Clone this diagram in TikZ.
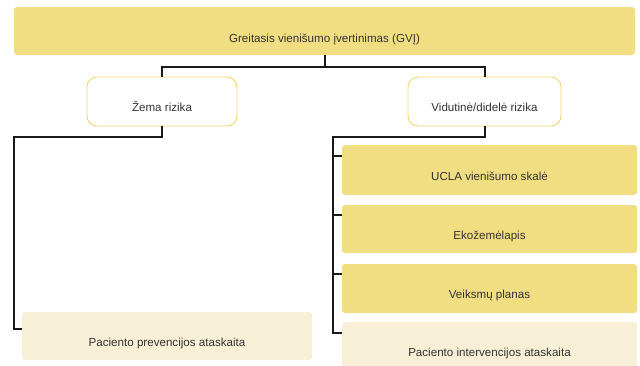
\documentclass[tikz,border=0pt]{standalone}
\usepackage{fontspec}
\setmainfont{Liberation Sans}
\definecolor{gold}{HTML}{F2DE82}
\definecolor{cream}{HTML}{F8F0D6}
\definecolor{goldline}{HTML}{F0D46E}
\definecolor{textc}{HTML}{333333}
\tikzset{
  box/.style={rectangle, rounded corners=3pt, inner sep=0pt, text height=22pt, text depth=2pt,
    font=\fontsize{11.6}{13}\selectfont, text=textc},
  mainbox/.style={box, fill=gold},
  notebox/.style={box, fill=cream},
  riskbox/.style={box, fill=white, draw=goldline, line width=0.9pt, rounded corners=10pt},
  link/.style={draw=black!90, line width=2pt}
}
\begin{document}
\begin{tikzpicture}[x=1pt,y=-1pt]
\useasboundingbox (0,0) rectangle (640,365);
\clip (0,0) rectangle (640,365);
\node[mainbox, minimum width=621pt, minimum height=48pt, text height=24pt, text depth=1pt] (gvi) at (324.5,31) {Greitasis vienišumo įvertinimas (GVĮ)};
\node[riskbox, minimum width=150pt, minimum height=49pt] (zema) at (162,101.5) {Žema rizika};
\node[riskbox, minimum width=153pt, minimum height=49pt] (vid) at (484.5,101.5) {Vidutinė/didelė rizika};
\node[notebox, minimum width=290pt, minimum height=48pt] (prev) at (167,336) {Paciento prevencijos ataskaita};
\node[mainbox, minimum width=295pt, minimum height=50pt] (ucla) at (489.5,170) {UCLA vienišumo skalė};
\node[mainbox, minimum width=295pt, minimum height=48pt] (eko) at (489.5,229) {Ekožemėlapis};
\node[mainbox, minimum width=295pt, minimum height=49pt] (veik) at (489.5,288.5) {Veiksmų planas};
\node[notebox, minimum width=295pt, minimum height=48pt] (intv) at (489.5,346) {Paciento intervencijos ataskaita};

\coordinate (lbus) at (14,137);
\coordinate (rbus) at (333,137);

\draw[link] (gvi.south) -- ++(0,12);
\draw[link] (zema.north) -- ++(0,-10) -| (vid.north);
\draw[link] (zema.south) |- (lbus) |- ([yshift=7pt]prev.west);
\draw[link] (vid.south) |- (rbus) |- ([yshift=13pt]intv.west);
\draw[link] (rbus) |- ([yshift=14pt]ucla.west);
\draw[link] (rbus) |- ([yshift=14pt]eko.west);
\draw[link] (rbus) |- ([yshift=14.5pt]veik.west);
\end{tikzpicture}
\end{document}
